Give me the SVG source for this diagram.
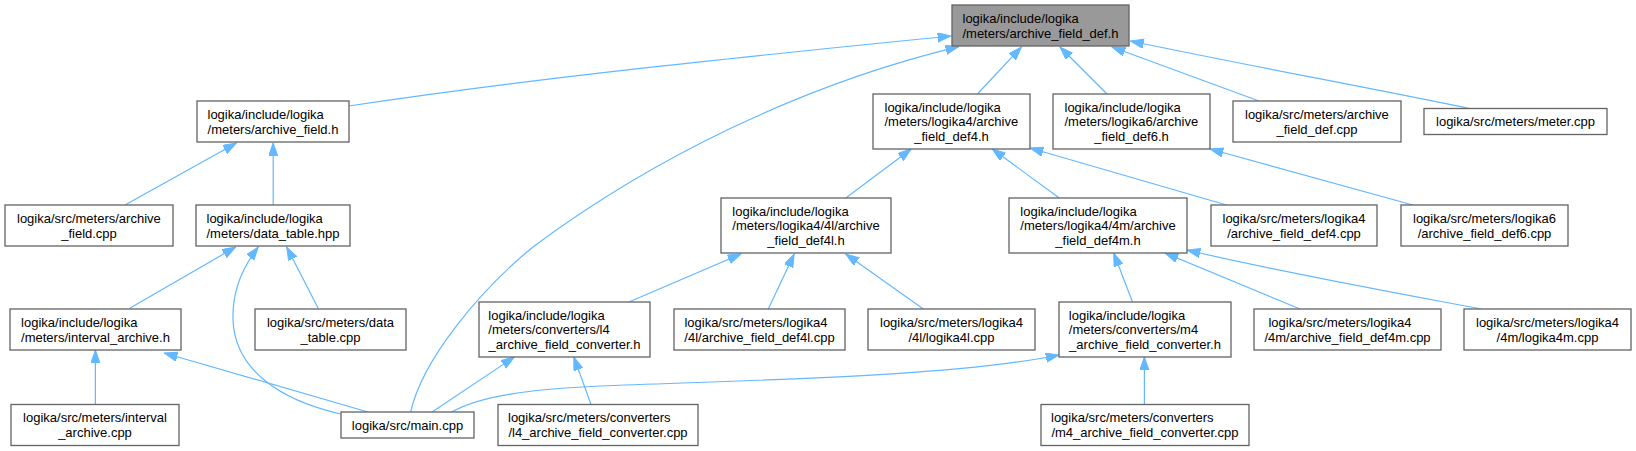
<svg xmlns="http://www.w3.org/2000/svg" width="1636" height="451" viewBox="0 0 1636 451">
<defs>
<style>
.b{fill:#ffffff;stroke:#666666;stroke-width:1.33}
.r{fill:#999999;stroke:#666666;stroke-width:1.33}
text{font-family:"Liberation Sans",Arial,Helvetica,sans-serif;font-size:13px;fill:#000000}
.m{text-anchor:middle}
.e{fill:none;stroke:#63b8ff;stroke-width:1.2;marker-end:url(#ah)}
</style>
<marker id="ah" markerUnits="userSpaceOnUse" markerWidth="14" markerHeight="10" refX="13.3" refY="4.67" orient="auto">
<path d="M0,0 L13.3,4.67 L0,9.33 Z" fill="#63b8ff" stroke="#63b8ff" stroke-width="1"/>
</marker>
</defs>
<rect width="1636" height="451" fill="#ffffff"/>
<g id="connectors">
<path class="e" d="M348.6,106 C548,76 752,56 951,36"/>
<path class="e" d="M410.7,412 C422,360 480,290 533.3,246.7 C650,160 800,85 958.8,46.7"/>
<path class="e" d="M977.4,94 L1021.4,47"/>
<path class="e" d="M1107,94 L1060,47"/>
<path class="e" d="M1259,101 L1112,47"/>
<path class="e" d="M1472,109 C1360,86 1240,64 1130.5,41"/>
<path class="e" d="M125,205 L236.4,143"/>
<path class="e" d="M273.2,205 L273.2,143"/>
<path class="e" d="M129.3,308.5 L235.7,247"/>
<path class="e" d="M340.5,414 C280,400 235,370 233,320 C232,292 242,268 258.3,247"/>
<path class="e" d="M318.3,308.5 L286.7,247"/>
<path class="e" d="M95.4,404.5 L95.4,350"/>
<path class="e" d="M367.9,412 L164.3,353"/>
<path class="e" d="M628.9,302 L741,254"/>
<path class="e" d="M768.3,309 L794.2,254"/>
<path class="e" d="M923.3,309 L845.8,254"/>
<path class="e" d="M432.1,412 L514.3,357"/>
<path class="e" d="M591,404.5 L573.8,357"/>
<path class="e" d="M451.8,412 C480,396 530,389 600,386 C750,380 950,377 1059,355"/>
<path class="e" d="M845.8,198 L911.2,149"/>
<path class="e" d="M1059.3,198 L992.2,149"/>
<path class="e" d="M1226.5,205 L1030,148"/>
<path class="e" d="M1412.8,205 L1210,149"/>
<path class="e" d="M1132.5,302 L1113.7,253"/>
<path class="e" d="M1300,309 L1165,253"/>
<path class="e" d="M1481.2,309 C1380,290 1280,272 1187,250"/>
<path class="e" d="M1144.4,404.5 L1144.4,357"/>
</g>
<g id="n_root"><rect class="r" x="952" y="5" width="177" height="41"/><text x="962.5" y="22.95">logika/include/logika</text><text class="m" x="1040.5" y="37.65">/meters/archive_field_def.h</text></g>
<g id="n_af_h"><rect class="b" x="197" y="101" width="152" height="41"/><text x="207.5" y="118.95">logika/include/logika</text><text class="m" x="273" y="133.65">/meters/archive_field.h</text></g>
<g id="n_def4"><rect class="b" x="873" y="94" width="157" height="55"/><text x="884.5" y="111.6">logika/include/logika</text><text x="884.5" y="126.3">/meters/logika4/archive</text><text class="m" x="951.5" y="141">_field_def4.h</text></g>
<g id="n_def6"><rect class="b" x="1053" y="94" width="157" height="55"/><text x="1064.5" y="111.6">logika/include/logika</text><text x="1064.5" y="126.3">/meters/logika6/archive</text><text class="m" x="1131.5" y="141">_field_def6.h</text></g>
<g id="n_afdef_cpp"><rect class="b" x="1233" y="101" width="168" height="41"/><text x="1245" y="118.95">logika/src/meters/archive</text><text class="m" x="1317" y="133.65">_field_def.cpp</text></g>
<g id="n_meter"><rect class="b" x="1424" y="108.5" width="183" height="26"/><text class="m" x="1515.5" y="126.3">logika/src/meters/meter.cpp</text></g>
<g id="n_af_cpp"><rect class="b" x="5" y="205" width="168" height="41"/><text x="17" y="222.95">logika/src/meters/archive</text><text class="m" x="89" y="237.65">_field.cpp</text></g>
<g id="n_dt_hpp"><rect class="b" x="196" y="205" width="154" height="41"/><text x="206.5" y="222.95">logika/include/logika</text><text class="m" x="273" y="237.65">/meters/data_table.hpp</text></g>
<g id="n_def4l"><rect class="b" x="721" y="198" width="170" height="55"/><text x="732.3" y="215.6">logika/include/logika</text><text x="732.3" y="230.3">/meters/logika4/4l/archive</text><text class="m" x="806" y="245">_field_def4l.h</text></g>
<g id="n_def4m"><rect class="b" x="1009" y="198" width="178" height="55"/><text x="1020.3" y="215.6">logika/include/logika</text><text x="1020.3" y="230.3">/meters/logika4/4m/archive</text><text class="m" x="1098" y="245">_field_def4m.h</text></g>
<g id="n_def4cpp"><rect class="b" x="1211" y="205" width="166" height="41"/><text x="1222.5" y="222.95">logika/src/meters/logika4</text><text class="m" x="1294" y="237.65">/archive_field_def4.cpp</text></g>
<g id="n_def6cpp"><rect class="b" x="1401" y="205" width="167" height="41"/><text x="1413" y="222.95">logika/src/meters/logika6</text><text class="m" x="1484.5" y="237.65">/archive_field_def6.cpp</text></g>
<g id="n_ia_h"><rect class="b" x="10" y="309" width="171" height="41"/><text x="21.1" y="326.95">logika/include/logika</text><text class="m" x="95.5" y="341.65">/meters/interval_archive.h</text></g>
<g id="n_dt_cpp"><rect class="b" x="255" y="309" width="151" height="41"/><text x="266.9" y="326.95">logika/src/meters/data</text><text class="m" x="330.5" y="341.65">_table.cpp</text></g>
<g id="n_l4conv_h"><rect class="b" x="479" y="302" width="171" height="55"/><text x="488.3" y="319.6">logika/include/logika</text><text x="488.3" y="334.3">/meters/converters/l4</text><text class="m" x="564.5" y="349">_archive_field_converter.h</text></g>
<g id="n_def4lcpp"><rect class="b" x="674" y="309" width="171" height="41"/><text x="684.4" y="326.95">logika/src/meters/logika4</text><text class="m" x="759.5" y="341.65">/4l/archive_field_def4l.cpp</text></g>
<g id="n_l4l_cpp"><rect class="b" x="868" y="309" width="167" height="41"/><text x="880" y="326.95">logika/src/meters/logika4</text><text class="m" x="951.5" y="341.65">/4l/logika4l.cpp</text></g>
<g id="n_m4conv_h"><rect class="b" x="1059" y="302" width="172" height="55"/><text x="1068.8" y="319.6">logika/include/logika</text><text x="1068.8" y="334.3">/meters/converters/m4</text><text class="m" x="1145" y="349">_archive_field_converter.h</text></g>
<g id="n_def4mcpp"><rect class="b" x="1254" y="309" width="187" height="41"/><text x="1268.4" y="326.95">logika/src/meters/logika4</text><text class="m" x="1347.5" y="341.65">/4m/archive_field_def4m.cpp</text></g>
<g id="n_l4m_cpp"><rect class="b" x="1464" y="309" width="167" height="41"/><text x="1476" y="326.95">logika/src/meters/logika4</text><text class="m" x="1547.5" y="341.65">/4m/logika4m.cpp</text></g>
<g id="n_ia_cpp"><rect class="b" x="11" y="404.5" width="168" height="41"/><text x="23.1" y="422.45">logika/src/meters/interval</text><text class="m" x="95" y="437.15">_archive.cpp</text></g>
<g id="n_main"><rect class="b" x="341" y="412" width="133" height="26"/><text class="m" x="407.5" y="429.8">logika/src/main.cpp</text></g>
<g id="n_l4conv_cpp"><rect class="b" x="498" y="404.5" width="200" height="41"/><text x="508" y="422.45">logika/src/meters/converters</text><text class="m" x="598" y="437.15">/l4_archive_field_converter.cpp</text></g>
<g id="n_m4conv_cpp"><rect class="b" x="1041" y="404.5" width="208" height="41"/><text x="1051" y="422.45">logika/src/meters/converters</text><text class="m" x="1145" y="437.15">/m4_archive_field_converter.cpp</text></g>
</svg>
